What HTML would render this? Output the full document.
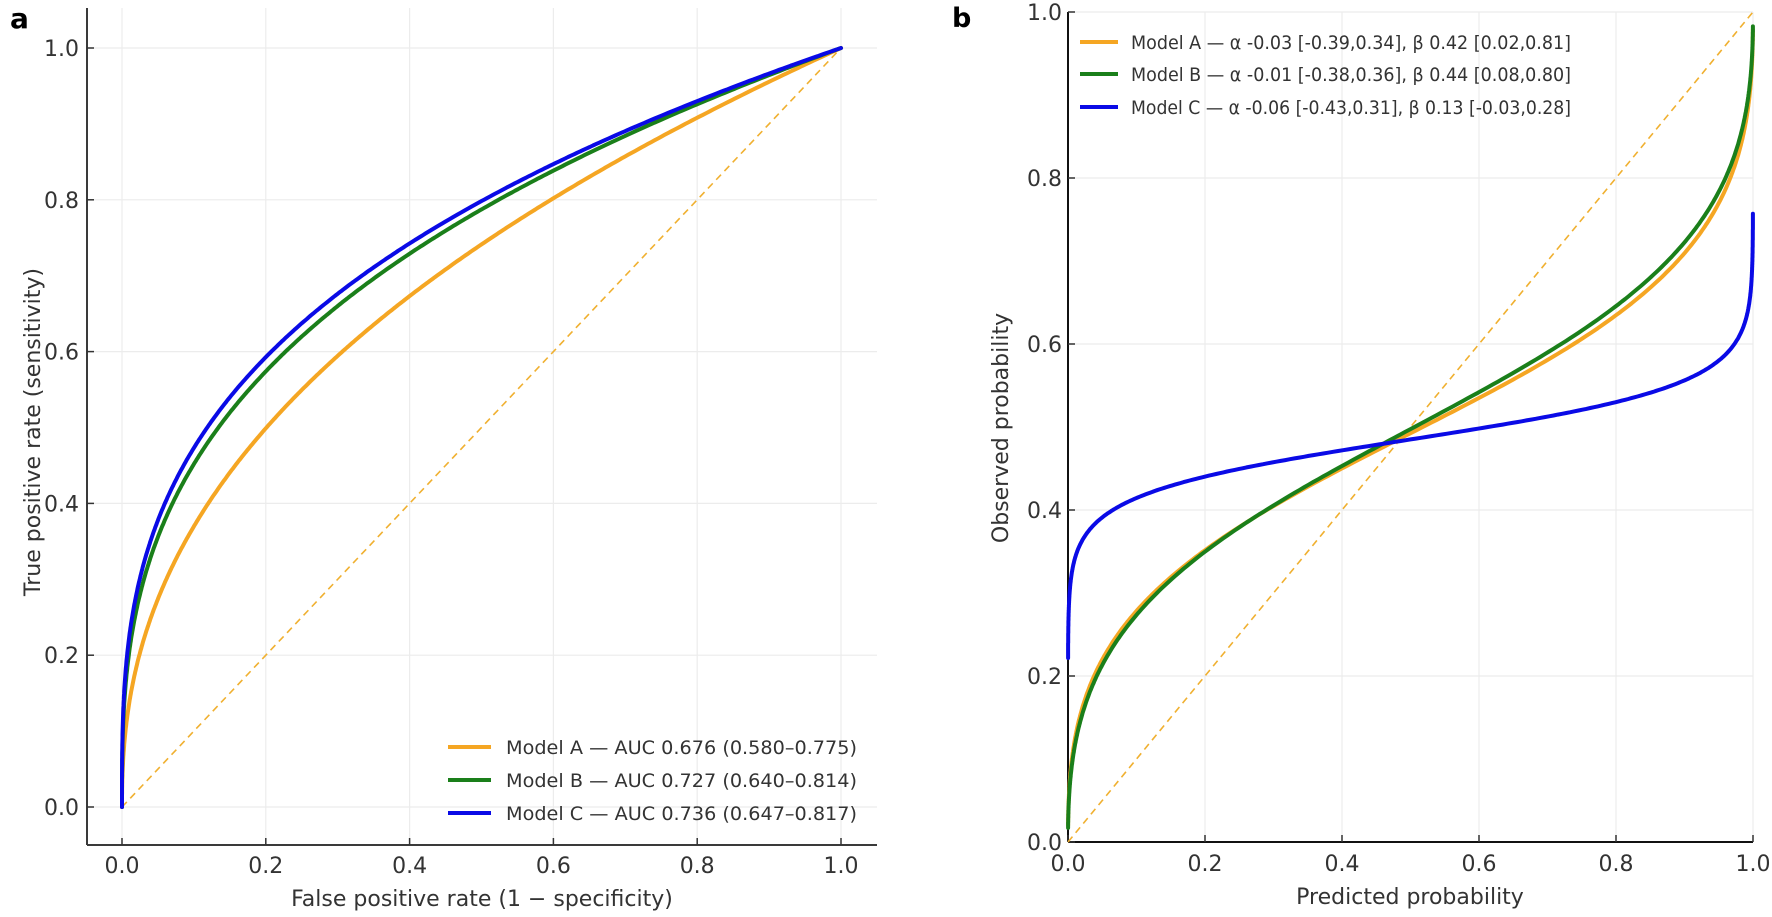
<!DOCTYPE html>
<html><head><meta charset="utf-8"><style>
html,body{margin:0;padding:0;background:#fff}
svg{display:block}
text{font-family:"DejaVu Sans","Liberation Sans",sans-serif;fill:#333}
</style></head><body>
<svg id="s" width="1772" height="917" viewBox="0 0 1772 917" xmlns="http://www.w3.org/2000/svg">
<rect width="1772" height="917" fill="#fff"/>
<g id="grid" stroke="#ececec" stroke-width="1.2"></g>
<line x1="87" y1="8" x2="87" y2="845" stroke="#3a3a3a" stroke-width="2"/>
<line x1="87" y1="845" x2="877" y2="845" stroke="#3a3a3a" stroke-width="2"/>
<line x1="1068" y1="12" x2="1068" y2="842" stroke="#111" stroke-width="2"/>
<line x1="1068" y1="842" x2="1753" y2="842" stroke="#111" stroke-width="2"/>
<g id="ticks" stroke="#333" stroke-width="1.5"></g>
<g id="labels" font-size="22"></g>
<line x1="122" y1="807" x2="841" y2="48" stroke="#f0b030" stroke-width="1.6" stroke-dasharray="7,5"/>
<line x1="1068" y1="842" x2="1753" y2="12" stroke="#f0b030" stroke-width="1.6" stroke-dasharray="7,5"/>
<g id="curves" fill="none" stroke-width="4" stroke-linejoin="round" stroke-linecap="round"></g>
<line x1="448" y1="747" x2="491" y2="747" stroke="#f5a623" stroke-width="4"/>
<line x1="448" y1="780" x2="491" y2="780" stroke="#1a7f1a" stroke-width="4"/>
<line x1="448" y1="813" x2="491" y2="813" stroke="#0a0ae6" stroke-width="4"/>
<text x="506" y="754" font-size="19" textLength="351" lengthAdjust="spacingAndGlyphs">Model A — AUC 0.676 (0.580–0.775)</text>
<text x="506" y="787" font-size="19" textLength="351" lengthAdjust="spacingAndGlyphs">Model B — AUC 0.727 (0.640–0.814)</text>
<text x="506" y="820" font-size="19" textLength="351" lengthAdjust="spacingAndGlyphs">Model C — AUC 0.736 (0.647–0.817)</text>
<line x1="1080" y1="42" x2="1118" y2="42" stroke="#f5a623" stroke-width="4"/>
<line x1="1080" y1="74" x2="1118" y2="74" stroke="#1a7f1a" stroke-width="4"/>
<line x1="1080" y1="107" x2="1118" y2="107" stroke="#0a0ae6" stroke-width="4"/>
<text x="1131" y="49" font-size="19" textLength="440" lengthAdjust="spacingAndGlyphs">Model A — α -0.03 [-0.39,0.34], β 0.42 [0.02,0.81]</text>
<text x="1131" y="81" font-size="19" textLength="440" lengthAdjust="spacingAndGlyphs">Model B — α -0.01 [-0.38,0.36], β 0.44 [0.08,0.80]</text>
<text x="1131" y="114" font-size="19" textLength="440" lengthAdjust="spacingAndGlyphs">Model C — α -0.06 [-0.43,0.31], β 0.13 [-0.03,0.28]</text>
<text x="482" y="906" font-size="22" text-anchor="middle">False positive rate (1 − specificity)</text>
<text x="1410" y="904" font-size="22" text-anchor="middle">Predicted probability</text>
<text transform="translate(40,432) rotate(-90)" font-size="22" text-anchor="middle">True positive rate (sensitivity)</text>
<text transform="translate(1008,428) rotate(-90)" font-size="22" text-anchor="middle">Observed probability</text>
<text x="10" y="28" font-size="28" font-weight="bold" style="fill:#000">a</text>
<text x="952" y="27" font-size="27" font-weight="bold" style="fill:#000">b</text>
</svg>
<script>
var NS="http://www.w3.org/2000/svg";
function el(p,t,a,txt){var e=document.createElementNS(NS,t);for(var k in a)e.setAttribute(k,a[k]);if(txt!==undefined)e.textContent=txt;document.getElementById(p).appendChild(e);return e;}
var AX=function(x){return 122+719*x},AY=function(y){return 807-759*y};
var BX=function(x){return 1068+685*x},BY=function(y){return 842-830*y};
var vals=[0,0.2,0.4,0.6,0.8,1.0];
vals.forEach(function(v){
 var s=v.toFixed(1);
 el("grid","line",{x1:AX(v),y1:8,x2:AX(v),y2:845});
 el("grid","line",{x1:87,y1:AY(v),x2:877,y2:AY(v)});
 el("grid","line",{x1:BX(v),y1:12,x2:BX(v),y2:842});
 el("grid","line",{x1:1068,y1:BY(v),x2:1753,y2:BY(v)});
 el("ticks","line",{x1:AX(v),y1:845,x2:AX(v),y2:838});
 el("ticks","line",{x1:87,y1:AY(v),x2:94,y2:AY(v)});
 el("ticks","line",{x1:BX(v),y1:842,x2:BX(v),y2:835});
 el("ticks","line",{x1:1068,y1:BY(v),x2:1075,y2:BY(v)});
 el("labels","text",{x:AX(v),y:873,"text-anchor":"middle"},s);
 el("labels","text",{x:79,y:AY(v)+8,"text-anchor":"end"},s);
 el("labels","text",{x:BX(v),y:871,"text-anchor":"middle"},s);
 el("labels","text",{x:1062,y:BY(v)+8,"text-anchor":"end"},s);
});
function path(pts,col){el("curves","path",{d:"M"+pts.map(function(p){return p[0].toFixed(1)+","+p[1].toFixed(1)}).join("L"),stroke:col});}
[[0.432,"#f5a623"],[0.345,"#1a7f1a"],[0.325,"#0a0ae6"]].forEach(function(c){
 var pts=[];for(var i=0;i<=400;i++){var x=Math.pow(i/400,2.2);pts.push([AX(x),AY(Math.pow(x,c[0]))]);}
 path(pts,c[1]);});
function lg(p){return Math.log(p/(1-p))}
function ex(z){return 1/(1+Math.exp(-z))}
[[-0.03,0.42,"#f5a623"],[-0.01,0.44,"#1a7f1a"],[-0.06,0.13,"#0a0ae6"]].forEach(function(c){
 var pts=[];for(var i=0;i<=600;i++){var t=i/600;var z=-9.2+18.4*t;var p=ex(z);pts.push([BX(p),BY(ex(c[0]+c[1]*lg(p)))]);}
 path(pts,c[2]);});
</script>
</body></html>
